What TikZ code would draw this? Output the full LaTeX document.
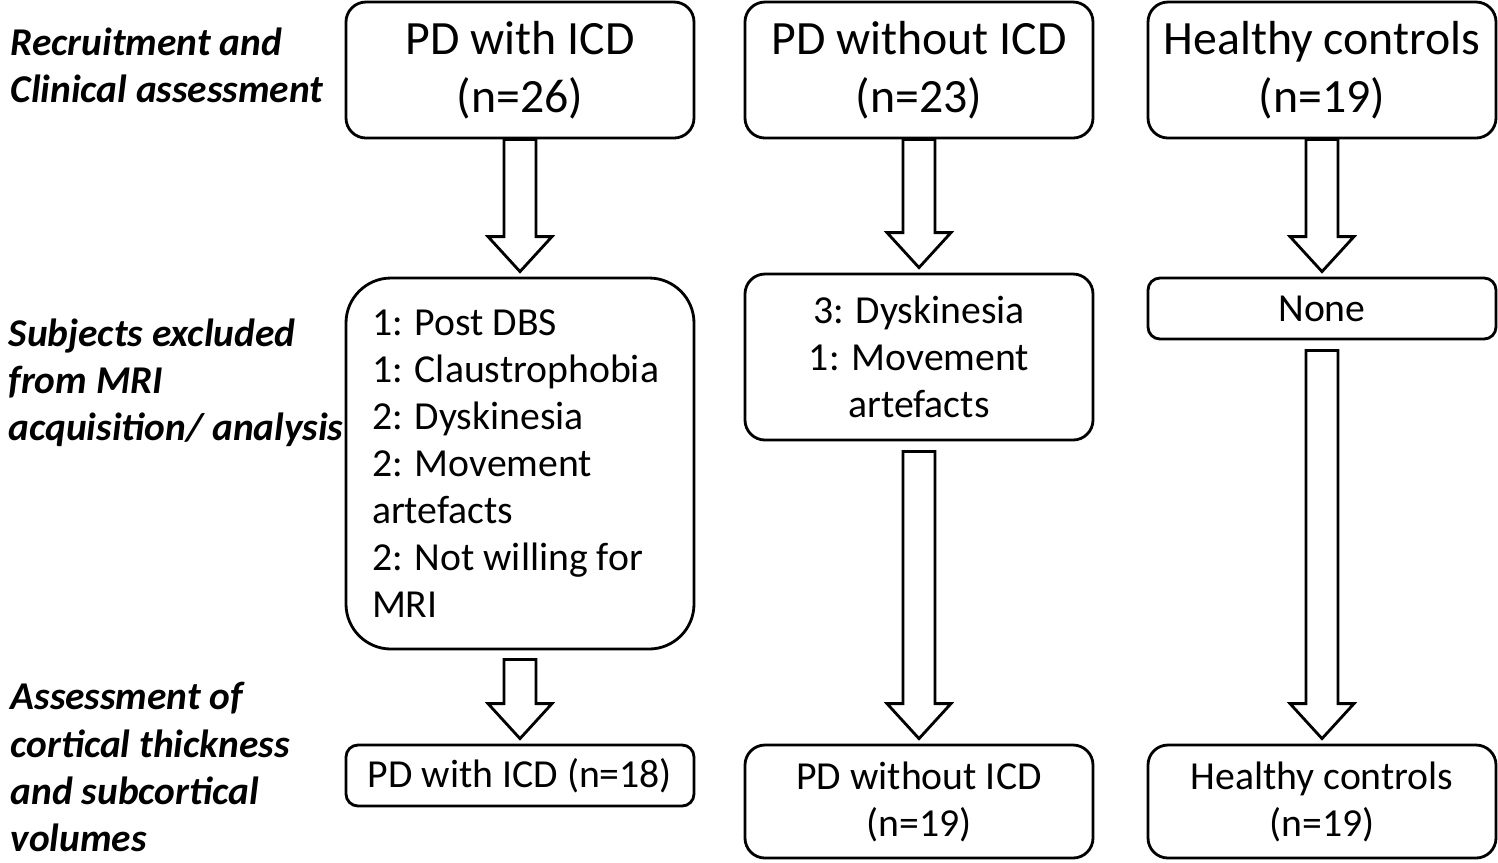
\documentclass[tikz,border=0pt]{standalone}
\usepackage{fontspec}
\setmainfont{Carlito}
\usetikzlibrary{calc}
% block arrow between two anchors: #1 start gap, #2 from, #3 to
\newcommand{\bigarrow}[3]{%
  \draw[blockarrow] let \p1=(#2), \p2=(#3) in
    (\x1-0.16cm,\y1-#1cm) -- (\x1-0.16cm,\y2+0.40cm) -- (\x1-0.32cm,\y2+0.40cm)
    -- (\x1,\y2+0.05cm) -- (\x1+0.32cm,\y2+0.40cm) -- (\x1+0.16cm,\y2+0.40cm)
    -- (\x1+0.16cm,\y1-#1cm) -- cycle;}
\begin{document}
\begin{tikzpicture}
  \tikzset{
    box/.style={draw, thick, rounded corners=0.2cm, minimum width=3.48cm, inner sep=0pt, align=center},
    head/.style={box, minimum height=1.36cm, font=\fontsize{13.6}{16.5}\selectfont},
    mid/.style={box, font=\fontsize{11.3}{13.4}\selectfont},
    side/.style={anchor=west, align=left, inner sep=0pt, font=\fontsize{11.2}{13.4}\selectfont\bfseries\itshape},
    blockarrow/.style={draw, thick, fill=white}
  }
  \useasboundingbox (0,0) rectangle (14.98,-8.62);

  % labels on the left
  \node[side] (lab1) at (0.10,-0.65) {Recruitment and\\Clinical assessment};
  \node[side] (lab2) at (0.08,-3.83) {Subjects excluded\\from MRI\\acquisition/ analysis};
  \node[side] (lab3) at (0.10,-7.67) {Assessment of\\cortical thickness\\and subcortical\\volumes};

  % top row
  \node[head] (icd) at (5.20,-0.70) {PD with ICD\\(n=26)};
  \node[head] (noicd) at (9.19,-0.70) {PD without ICD\\(n=23)};
  \node[head] (hc) at (13.22,-0.70) {Healthy controls\\(n=19)};

  % exclusions
  \node[mid, minimum height=3.71cm, rounded corners=0.45cm, inner xsep=0.26cm,
        text width=2.96cm, align=flush left] (exicd) at (5.20,-4.635)
    {1: Post DBS\\1: Claustrophobia\\2: Dyskinesia\\2: Movement\\artefacts\\2: Not willing for\\MRI};
  \node[mid, minimum height=1.66cm] (exnoicd) at (9.19,-3.57) {3: Dyskinesia\\1: Movement\\artefacts};
  \node[mid, minimum height=0.61cm, rounded corners=0.12cm] (exhc) at (13.22,-3.085) {None};

  % final groups
  \node[mid, minimum height=0.61cm, rounded corners=0.12cm] (fnicd) at (5.20,-7.755) {PD with ICD (n=18)};
  \node[mid, minimum height=1.13cm] (fnnoicd) at (9.19,-8.015) {PD without ICD\\(n=19)};
  \node[mid, minimum height=1.13cm] (fnhc) at (13.22,-8.015) {Healthy controls\\(n=19)};

  % arrows
  \bigarrow{0}{icd.south}{exicd.north}
  \bigarrow{0}{noicd.south}{exnoicd.north}
  \bigarrow{0}{hc.south}{exhc.north}
  \bigarrow{0.09}{exicd.south}{fnicd.north}
  \bigarrow{0.10}{exnoicd.south}{fnnoicd.north}
  \bigarrow{0.10}{exhc.south}{fnhc.north}
\end{tikzpicture}
\end{document}
